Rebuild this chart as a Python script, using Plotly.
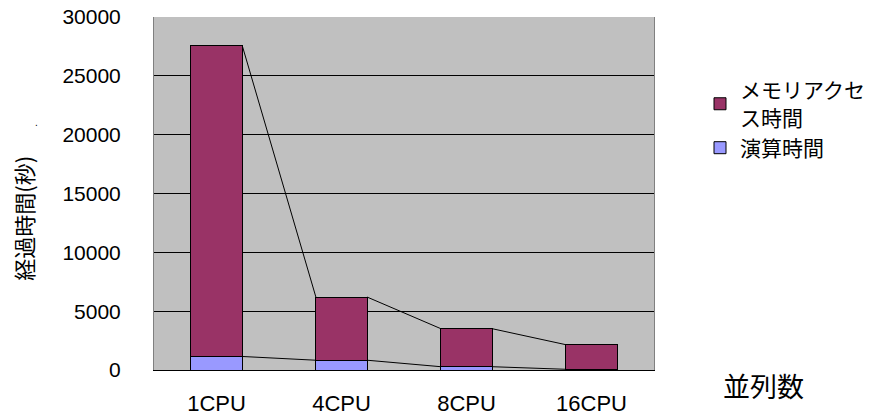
import plotly.graph_objects as go

categories = ["1CPU", "4CPU", "8CPU", "16CPU"]
compute_time = [1150, 830, 280, 60]
memory_time = [26450, 5370, 3230, 2090]
series_names = ["演算時間", "メモリアクセ<br>ス時間"]
y_ticks = [0, 5000, 10000, 15000, 20000, 25000, 30000]

bar_w = 0.41
xs = list(range(len(categories)))
totals = [c + m for c, m in zip(compute_time, memory_time)]

fig = go.Figure()
fig.add_trace(go.Bar(x=xs, y=compute_time, name=series_names[0], width=bar_w,
                     marker=dict(color="#9999FF", line=dict(color="black", width=1))))
fig.add_trace(go.Bar(x=xs, y=memory_time, name=series_names[1], width=bar_w,
                     marker=dict(color="#993366", line=dict(color="black", width=1))))

# Excel-style series lines connecting bar tops
for vals in (compute_time, totals):
    for i in range(len(vals) - 1):
        fig.add_trace(go.Scatter(x=[xs[i] + bar_w / 2, xs[i + 1] - bar_w / 2],
                                 y=[vals[i], vals[i + 1]], mode="lines",
                                 line=dict(color="black", width=1),
                                 showlegend=False, hoverinfo="skip"))

font_lat = "Liberation Sans, Arial, sans-serif"
font_cjk = "Noto Sans CJK JP, sans-serif"

fig.update_layout(
    barmode="stack",
    width=886, height=418,
    margin=dict(l=154, r=232, t=17, b=48),
    paper_bgcolor="white",
    plot_bgcolor="#C0C0C0",
    font=dict(family=font_lat, size=21, color="black"),
    legend=dict(x=1.092, y=0.85, xanchor="left", yanchor="top",
                traceorder="reversed", bgcolor="rgba(0,0,0,0)",
                font=dict(family=font_cjk, size=21), itemwidth=30,
                tracegroupgap=0),
    xaxis=dict(tickmode="array", tickvals=xs, ticktext=categories,
               range=[-0.5, len(categories) - 0.5], showgrid=False,
               showline=True, linecolor="black", linewidth=1, mirror=False,
               ticks="", tickfont=dict(size=22), automargin=False,
               ticklabelstandoff=14),
    yaxis=dict(range=[0, 30000], tickmode="array", tickvals=y_ticks,
               ticktext=[str(v) for v in y_ticks], showgrid=True,
               gridcolor="black", gridwidth=1, zeroline=False,
               showline=True, linecolor="#808080", linewidth=1, mirror=True,
               ticks="", tickfont=dict(size=21), automargin=False,
               ticklabelstandoff=28, ticklabeloverflow="allow"),
    annotations=[
        dict(text="経過時間(秒)", x=-0.261, y=0.43, xref="paper", yref="paper",
             xanchor="center", yanchor="middle", textangle=-90, showarrow=False,
             font=dict(family=font_cjk, size=22)),
        dict(text="並列数", x=1.134, y=-0.045, xref="paper", yref="paper",
             xanchor="left", yanchor="middle", showarrow=False,
             font=dict(family=font_cjk, size=27)),
        dict(text=".", x=-0.242, y=0.722, xref="paper", yref="paper",
             showarrow=False, font=dict(size=10)),
    ],
)

# remove the page's default 8px body margin so the figure fills the window
fig.write_html("out.html", config={"displayModeBar": False},
               post_script="document.body.style.margin='0px';")
